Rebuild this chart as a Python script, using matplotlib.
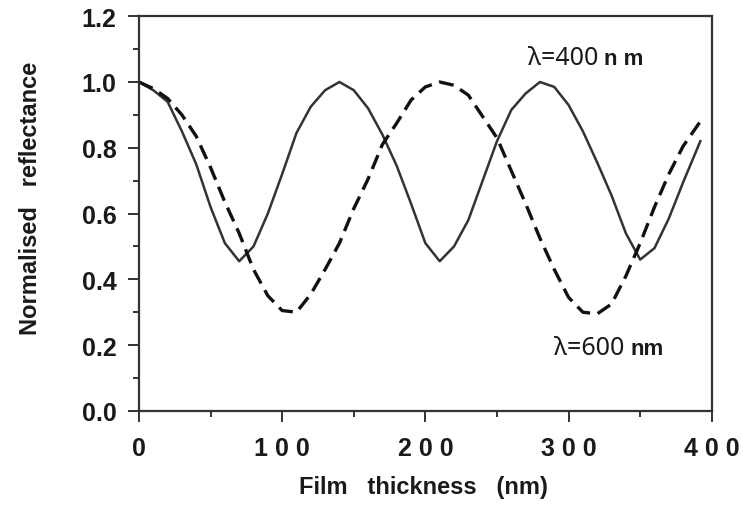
import matplotlib
matplotlib.use("Agg")
import matplotlib.pyplot as plt
from matplotlib.ticker import MultipleLocator

# ── Data ──
thickness = [0, 10, 20, 30, 40, 50, 60, 70, 80, 90,
             100, 110, 120, 130, 140, 150, 160, 170, 180, 190,
             200, 210, 220, 230, 240, 250, 260, 270, 280, 290,
             300, 310, 320, 330, 340, 350, 360, 370, 380, 392]

refl_400 = [1.00, 0.975, 0.94, 0.85, 0.75, 0.62, 0.51, 0.455, 0.50, 0.60,
            0.72, 0.845, 0.925, 0.975, 1.00, 0.975, 0.92, 0.84, 0.745, 0.63,
            0.51, 0.455, 0.50, 0.58, 0.70, 0.82, 0.915, 0.965, 1.00, 0.985,
            0.93, 0.85, 0.755, 0.655, 0.54, 0.46, 0.495, 0.585, 0.695, 0.82]

refl_600 = [1.00, 0.98, 0.95, 0.90, 0.835, 0.74, 0.635, 0.54, 0.43, 0.35,
            0.305, 0.30, 0.355, 0.43, 0.51, 0.615, 0.705, 0.81, 0.875, 0.945,
            0.985, 1.00, 0.99, 0.96, 0.895, 0.83, 0.73, 0.63, 0.525, 0.43,
            0.345, 0.30, 0.295, 0.325, 0.41, 0.51, 0.62, 0.72, 0.805, 0.88]

x_ticks = [0, 100, 200, 300, 400]
x_tick_labels = ["0", "1 0 0", "2 0 0", "3 0 0", "4 0 0"]
y_ticks = [0.0, 0.2, 0.4, 0.6, 0.8, 1.0, 1.2]

SANS = ["Liberation Sans", "DejaVu Sans"]
NOTE = ["Noto Sans", "DejaVu Sans"]
INK = "#333333"
TXT = "#1a1a1a"

fig = plt.figure(figsize=(7.43, 5.06), dpi=100)
ax = fig.add_axes([0.187, 0.186, 0.771, 0.780])

ax.plot(thickness, refl_400, color=INK, lw=1.8)
ax.plot(thickness, refl_600, color="#111111", lw=2.4, linestyle=(0, (4.5, 2.3)))

ax.set_xlim(0, 400)
ax.set_ylim(0, 1.2)
ax.set_xticks(x_ticks)
ax.set_xticklabels(x_tick_labels)
ax.set_yticks(y_ticks)
ax.set_yticklabels([f"{v:.1f}" for v in y_ticks])
ax.xaxis.set_minor_locator(MultipleLocator(50))
ax.yaxis.set_minor_locator(MultipleLocator(0.1))

ax.tick_params(which="major", direction="out", length=8, width=1.4, color=INK)
ax.tick_params(which="minor", direction="out", length=4, width=1.4, color=INK)
ax.tick_params(axis="x", which="major", pad=10)
ax.tick_params(axis="y", which="major", pad=8)
for lab in ax.get_xticklabels() + ax.get_yticklabels():
    lab.set_fontfamily(SANS)
    lab.set_fontweight("bold")
    lab.set_fontsize(18)
    lab.set_color(TXT)

for sp in ax.spines.values():
    sp.set_linewidth(1.6)
    sp.set_color(INK)

ax.set_xlabel("Film   thickness   (nm)", fontsize=17, fontweight="bold",
              family=SANS, color=TXT)
ax.set_ylabel("Normalised   reflectance", fontsize=17, fontweight="bold",
              family=SANS, color=TXT)
ax.xaxis.set_label_coords(0.497, -0.163)
ax.yaxis.set_label_coords(-0.17, 0.54)

# curve labels
ax.text(272, 1.054, "λ=400", fontsize=18, family=NOTE, ha="left", va="baseline", color=TXT)
ax.text(325, 1.054, "n m", fontsize=16, family=SANS, fontweight="bold", ha="left", va="baseline", color=TXT)
ax.text(290, 0.173, "λ=600", fontsize=18, family=NOTE, ha="left", va="baseline", color=TXT)
ax.text(343, 0.173, "nm", fontsize=16, family=SANS, fontweight="bold", ha="left", va="baseline", color=TXT)

fig.savefig("out.png", dpi=100)
plt.close(fig)
